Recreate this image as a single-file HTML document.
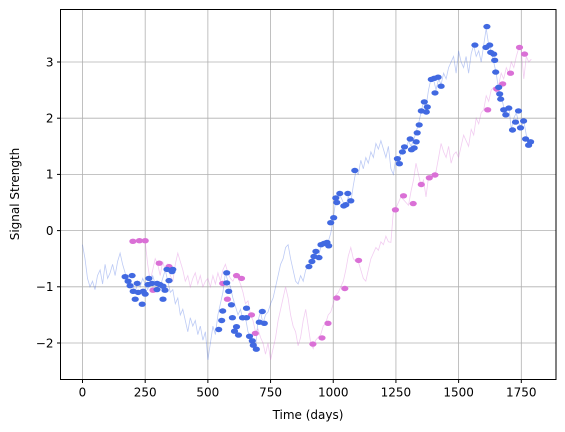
<!DOCTYPE html>
<html><head><meta charset="utf-8"><style>
body{margin:0;background:#fff;}
svg{display:block;font-family:"DejaVu Sans","Liberation Sans",sans-serif;}
</style></head><body>
<svg id="chart" width="565" height="432" viewBox="0 0 565 432" xmlns="http://www.w3.org/2000/svg">
<rect x="0" y="0" width="565" height="432" fill="#fff"/>
<g id="grid"></g>
<g id="lines"></g>
<g id="marks"></g>
<rect x="60.5" y="9.5" width="495.5" height="370" fill="none" stroke="#000" stroke-width="1"/>
<g id="ticks"></g>
<text x="308" y="419" font-size="12" text-anchor="middle">Time (days)</text>
<text transform="translate(19,194) rotate(-90)" font-size="12" text-anchor="middle">Signal Strength</text>
</svg>
<script>
const xTicks=[0,250,500,750,1000,1250,1500,1750];
const yTicks=[-2,-1,0,1,2,3];
const blueStart=0;
const blueLine=[-0.25,-0.5,-0.85,-1.0,-0.9,-1.05,-0.8,-0.7,-0.95,-0.6,
-0.85,-0.75,-0.6,-0.8,-0.55,-0.4,-0.6,-0.75,-0.9,-1.0,
-0.95,-1.1,-0.9,-1.0,-0.85,-0.95,-1.05,-0.9,-0.8,-0.95,
-0.9,-1.0,-0.85,-0.7,-0.9,-1.1,-1.05,-1.3,-1.2,-1.5,
-1.4,-1.6,-1.8,-1.55,-1.7,-1.6,-1.85,-1.7,-1.95,-1.8,
-2.3,-2.0,-1.7,-1.85,-1.5,-1.3,-1.1,-0.75,-0.9,-1.0,
-1.2,-1.35,-1.5,-1.4,-1.6,-1.55,-1.8,-1.9,-2.0,-2.1,
-1.6,-1.45,-1.65,-1.5,-1.45,-1.3,-1.2,-1.0,-0.8,-0.6,
-0.5,-0.3,-0.25,-0.5,-0.7,-0.9,-0.95,-0.8,-0.9,-0.7,
-0.65,-0.55,-0.45,-0.4,-0.48,-0.3,-0.25,-0.22,-0.2,-0.05,
0.2,0.55,0.6,0.6,0.5,0.45,0.6,0.5,0.8,1.05,
1.0,1.25,1.1,1.3,1.2,1.4,1.3,1.55,1.45,1.6,
1.45,1.3,1.5,1.1,1.0,1.3,1.2,1.4,1.5,1.45,
1.6,1.5,1.6,1.75,1.9,2.1,2.3,2.2,2.5,2.7,
2.7,2.5,2.7,2.6,2.8,2.7,2.9,3.0,3.1,2.8,
3.2,3.0,2.9,3.1,2.8,3.15,3.3,3.1,3.2,3.0,
3.3,3.6,3.3,3.2,3.0,2.8,2.5,2.4,2.2,2.1,
2.2,1.8,2.0,2.1,1.9,1.85,1.95,1.7,1.6,1.55,1.55];
const pinkStart=250;
const pinkLine=[-0.2,-0.6,-0.9,-0.7,-0.5,
-0.6,-0.8,-0.55,-0.7,-0.6,-0.8,-0.9,-0.6,-0.4,-0.55,
-0.7,-0.9,-0.8,-1.0,-0.85,-0.75,-0.95,-0.8,-1.0,-0.9,
-0.85,-1.0,-0.8,-0.95,-0.75,-0.9,-0.7,-0.6,-0.75,-0.85,
-0.9,-0.8,-0.85,-0.95,-1.1,-1.3,-1.25,-1.5,-1.6,-1.8,
-1.75,-1.9,-2.0,-2.2,-2.0,-2.3,-2.1,-1.9,-1.6,-1.4,
-1.2,-1.0,-1.2,-1.5,-1.7,-1.8,-2.05,-1.9,-1.6,-1.4,
-1.7,-2.0,-2.1,-1.95,-1.9,-1.85,-1.7,-1.65,-1.5,-1.45,
-1.3,-1.15,-1.1,-1.0,-0.9,-0.7,-0.45,-0.3,-0.5,-0.55,
-0.55,-0.7,-0.85,-0.9,-0.7,-0.5,-0.4,-0.3,-0.35,-0.2,
-0.25,-0.1,-0.2,-0.21,0.35,0.4,0.5,0.6,0.55,0.5,
0.45,0.7,0.9,1.2,1.0,0.8,0.9,0.6,0.95,1.0,
1.0,1.05,1.3,1.55,1.4,1.3,1.5,1.2,1.35,1.4,
1.3,1.5,1.7,1.6,1.5,1.8,1.7,2.0,1.9,2.1,
2.15,2.4,2.3,2.5,2.55,2.45,2.6,2.8,2.7,2.9,
2.8,3.0,2.9,3.1,3.25,3.2,2.7,3.1,3.0,3.05];
const blueDays=[170,198,182,190,218,202,222,242,250,210,238,265,261,277,297,309,321,329,321,297,345,337,357,360,
575,575,583,594,559,555,543,598,654,638,654,614,606,622,666,677,681,693,705,717,725,
903,915,923,931,943,951,963,975,982,990,1002,1010,1014,1026,1042,1050,1058,1070,1086,
1256,1264,1276,1284,1307,1312,1323,1331,1335,1343,1351,1363,1371,1375,1391,1403,1406,1418,1430,
1565,1613,1609,1624,1628,1640,1644,1648,1660,1664,1668,1680,1688,1700,1727,1739,1759,1747,1715,1767,1779,1787];
const blueVals=[-0.82,-0.8,-0.9,-0.98,-0.94,-1.08,-1.1,-1.08,-1.13,-1.22,-1.31,-0.85,-0.96,-0.94,-0.94,-0.96,-0.99,-1.06,-1.22,-1.05,-0.89,-0.69,-0.73,-0.69,
-0.75,-0.93,-1.08,-1.32,-1.43,-1.6,-1.76,-1.55,-1.38,-1.55,-1.55,-1.71,-1.79,-1.86,-1.88,-1.96,-2.04,-2.11,-1.63,-1.44,-1.65,
-0.64,-0.55,-0.46,-0.37,-0.48,-0.25,-0.23,-0.21,-0.27,0.14,0.23,0.58,0.5,0.66,0.44,0.46,0.66,0.53,1.07,
1.28,1.19,1.4,1.49,1.63,1.44,1.47,1.58,1.74,1.88,2.13,2.29,2.11,2.2,2.69,2.71,2.45,2.73,2.57,
3.3,3.63,3.26,3.3,3.17,3.14,3.03,2.82,2.55,2.43,2.34,2.15,2.06,2.18,1.93,2.13,1.95,1.83,1.79,1.63,1.52,1.58];
const pinkDays=[201,227,250,306,345,281,559,578,614,634,674,689,919,955,979,1014,1046,1101,1248,1280,1319,1351,1383,1406,1616,1652,1676,1707,1743,1763];
const pinkVals=[-0.19,-0.18,-0.18,-0.58,-0.64,-1.06,-0.94,-1.22,-0.8,-0.85,-1.5,-1.83,-2.02,-1.91,-1.65,-1.2,-1.03,-0.53,0.37,0.62,0.48,0.82,0.94,0.99,2.15,2.52,2.61,2.8,3.26,3.14];

const NS='http://www.w3.org/2000/svg';
const X0=82.5, XS=(521.3-82.5)/1750, Y0=230.6, YS=56.2;
const L=60.5,R=556,T=9.5,B=379.5;
function sx(d){return X0+d*XS;}
function sy(v){return Y0-v*YS;}
function mk(tag,parent){const e=document.createElementNS(NS,tag);parent.appendChild(e);return e;}
const grid=document.getElementById('grid'),ticks=document.getElementById('ticks');
xTicks.forEach(t=>{
  const x=sx(t);
  const g=mk('line',grid);
  
  
  g.setAttribute('x1',x);g.setAttribute('x2',x);g.setAttribute('y1',T);g.setAttribute('y2',B);
  g.setAttribute('stroke','#b0b0b0');g.setAttribute('stroke-width','0.8');
  const tk=mk('line',ticks);
  
  
  tk.setAttribute('x1',x);tk.setAttribute('x2',x);tk.setAttribute('y1',B);tk.setAttribute('y2',B+3.5);tk.setAttribute('stroke','#000');
  const tx=mk('text',ticks);
  
  
  tx.setAttribute('x',x);tx.setAttribute('y',B+17);tx.setAttribute('font-size','12');tx.setAttribute('text-anchor','middle');
  tx.textContent=t;
});
yTicks.forEach(t=>{
  const y=sy(t);
  const g=mk('line',grid);
  
  
  g.setAttribute('x1',L);g.setAttribute('x2',R);g.setAttribute('y1',y);g.setAttribute('y2',y);
  g.setAttribute('stroke','#b0b0b0');g.setAttribute('stroke-width','0.8');
  const tk=mk('line',ticks);
  
  
  tk.setAttribute('x1',L-3.5);tk.setAttribute('x2',L);tk.setAttribute('y1',y);tk.setAttribute('y2',y);tk.setAttribute('stroke','#000');
  const tx=mk('text',ticks);
  
  
  tx.setAttribute('x',L-7);tx.setAttribute('y',y+4.3);tx.setAttribute('font-size','12');tx.setAttribute('text-anchor','end');
  tx.textContent=(t<0?'\u2212'+(-t):t);
});
const lines=document.getElementById('lines'),marks=document.getElementById('marks');
function drawLine(vals,start,color,name){
  const p=mk('polyline',lines);
  
  
  p.setAttribute('points',vals.map((v,i)=>sx(start+i*10).toFixed(1)+','+sy(v).toFixed(1)).join(' '));
  p.setAttribute('fill','none');p.setAttribute('stroke',color);p.setAttribute('stroke-opacity','0.35');p.setAttribute('stroke-width','0.8');
}
drawLine(blueLine,blueStart,'#4169e1','blue-signal-line');
drawLine(pinkLine,pinkStart,'#da70d6','pink-signal-line');
function drawMarks(days,vals,color,name){
  days.forEach((d,i)=>{
    const e=mk('ellipse',marks);
    
    
    e.setAttribute('cx',sx(d).toFixed(1));e.setAttribute('cy',sy(vals[i]).toFixed(1));
    e.setAttribute('rx','3.6');e.setAttribute('ry','2.7');e.setAttribute('fill',color);
  });
}
drawMarks(pinkDays,pinkVals,'#da70d6','pink-marker');
drawMarks(blueDays,blueVals,'#4169e1','blue-marker');
</script>
</body></html>
